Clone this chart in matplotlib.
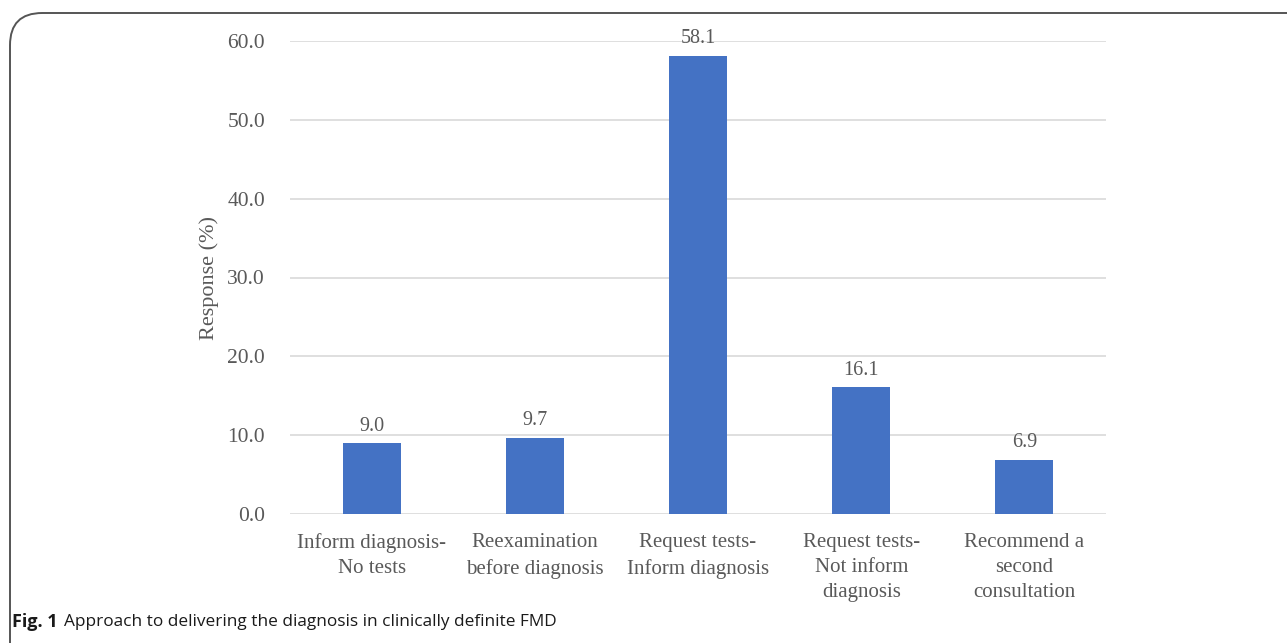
import matplotlib.pyplot as plt
from matplotlib.patches import FancyBboxPatch

categories = [
    "Inform diagnosis-\nNo tests",
    "Reexamination\nbefore diagnosis",
    "Request tests-\nInform diagnosis",
    "Request tests-\nNot inform\ndiagnosis",
    "Recommend a\nsecond\nconsultation",
]
responses = [9.0, 9.7, 58.1, 16.1, 6.9]
yticks = [0, 10, 20, 30, 40, 50, 60]

W, H = 1287, 643
fig = plt.figure(figsize=(W / 100, H / 100), dpi=100)
fig.patch.set_facecolor("white")

# rounded frame around the figure panel
frame = FancyBboxPatch((10 / W, -0.2), 1.2, (H - 13) / H + 0.2,
                       boxstyle="round,pad=0,rounding_size=0.025",
                       transform=fig.transFigure, fill=False,
                       edgecolor="#555555", linewidth=1.4, mutation_aspect=W / H)
fig.patches.append(frame)

ax = fig.add_axes([290 / W, 1 - 514 / H, (1106 - 290) / W, (514 - 41) / H])
serif = "Liberation Serif"
grey = "#595959"

x = range(len(categories))
bars = ax.bar(x, responses, width=0.355, color="#4472C4", zorder=3)
for b, v in zip(bars, responses):
    ax.text(b.get_x() + b.get_width() / 2, v + 0.95, f"{v:.1f}",
            ha="center", va="bottom", fontsize=14.5, family=serif, color=grey,
            zorder=4)

ax.set_xlim(-0.5, len(categories) - 0.5)
ax.set_ylim(0, 60)
ax.set_yticks(yticks)
ax.set_yticklabels([f"{t:.1f}" for t in yticks], family=serif, fontsize=15.5, color=grey)
ax.set_xticks(list(x))
ax.set_xticklabels(categories, family=serif, fontsize=15, color=grey, linespacing=1.42)
ax.tick_params(axis="both", length=0)
ax.tick_params(axis="y", pad=18)
ax.tick_params(axis="x", pad=14)
ax.grid(axis="y", color="#d9d9d9", linewidth=1.2, zorder=0)
for s in ax.spines.values():
    s.set_visible(False)
ax.set_ylabel("Response (%)", family=serif, fontsize=16, color=grey, labelpad=6)

fig.text(12 / W, 1 - 622 / H, "Fig. 1", fontsize=13, fontweight="bold",
         family="Open Sans", va="center", ha="left", color="#1a1a1a")
fig.text(64 / W, 1 - 622 / H, "Approach to delivering the diagnosis in clinically definite FMD",
         fontsize=12.4, family="Open Sans", va="center", ha="left", color="#1a1a1a")

fig.savefig("out.png", dpi=100, facecolor="white")
